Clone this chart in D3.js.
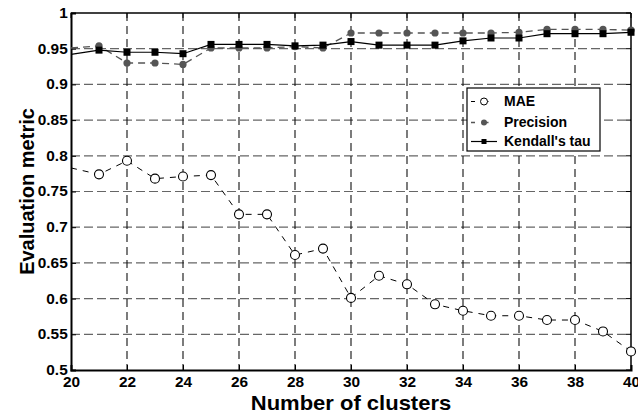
<!DOCTYPE html>
<html><head><meta charset="utf-8">
<script src="https://cdn.jsdelivr.net/npm/d3@7"></script>
<style>body{margin:0;background:#fff}svg{display:block;font-family:"Liberation Sans",Arial,sans-serif;font-weight:bold}</style>
</head><body><svg id="c" width="638" height="415"></svg>
<script>
const clusters = [20,21,22,23,24,25,26,27,28,29,30,31,32,33,34,35,36,37,38,39,40];
const mae = [0.783,0.774,0.793,0.768,0.771,0.773,0.718,0.718,0.661,0.670,0.601,0.632,0.620,0.592,0.583,0.576,0.576,0.570,0.570,0.554,0.526];
const precision = [0.951,0.954,0.930,0.930,0.928,0.951,0.951,0.951,0.953,0.951,0.972,0.972,0.972,0.972,0.972,0.972,0.973,0.977,0.977,0.977,0.976];
const kendall = [0.942,0.948,0.945,0.945,0.943,0.956,0.956,0.956,0.954,0.955,0.960,0.955,0.955,0.955,0.961,0.965,0.965,0.971,0.971,0.971,0.973];
const xTicks = [20,22,24,26,28,30,32,34,36,38,40];
const yTicks = [0.5,0.55,0.6,0.65,0.7,0.75,0.8,0.85,0.9,0.95,1];
const seriesNames = ["MAE","Precision","Kendall's tau"];

const svg = d3.select("#c");
const L=71, R=631, T=13, B=370;
const x = d3.scaleLinear().domain([20,40]).range([L,R]);
const y = d3.scaleLinear().domain([0.5,1]).range([B,T]);

// grid
svg.append("g").selectAll("line").data(yTicks.filter(v=>v>0.5&&v<1)).join("line")
  .attr("x1",L).attr("x2",R).attr("y1",d=>y(d)).attr("y2",d=>y(d))
  .attr("stroke","#666").attr("stroke-width",1.2).attr("stroke-dasharray","9,4");
svg.append("g").selectAll("line").data(xTicks.filter(v=>v>20&&v<40)).join("line")
  .attr("y1",T).attr("y2",B).attr("x1",d=>x(d)).attr("x2",d=>x(d))
  .attr("stroke","#111").attr("stroke-width",1.1).attr("stroke-dasharray","8,5");

// axes
const xa = svg.append("g").attr("transform",`translate(0,${B})`)
  .call(d3.axisBottom(x).tickValues(xTicks).tickSize(-5).tickPadding(6).tickFormat(d3.format("d")));
const ya = svg.append("g").attr("transform",`translate(${L},0)`)
  .call(d3.axisLeft(y).tickValues(yTicks).tickSize(-5).tickPadding(3).tickFormat(d=>String(d)));
[xa,ya].forEach(a=>{a.select(".domain").attr("stroke","#000").attr("stroke-width",2);
  a.selectAll("text").attr("font-size",14).attr("font-weight","bold").attr("font-family","Liberation Sans, Arial, sans-serif").attr("fill","#000")
    .attr("transform","scale(1.1,1)");
  a.selectAll(".tick line").attr("stroke","#000");});
xa.selectAll("text").attr("dy","0.8em");
// top/right mirrored ticks
svg.append("g").selectAll("line").data(xTicks).join("line").attr("x1",d=>x(d)).attr("x2",d=>x(d)).attr("y1",T).attr("y2",T+5).attr("stroke","#000");
svg.append("g").selectAll("line").data(yTicks).join("line").attr("y1",d=>y(d)).attr("y2",d=>y(d)).attr("x1",R).attr("x2",R-5).attr("stroke","#000");
svg.append("line").attr("x1",L).attr("x2",R).attr("y1",T).attr("y2",T).attr("stroke","#000").attr("stroke-width",1.5);
svg.append("line").attr("x1",R).attr("x2",R).attr("y1",T).attr("y2",B).attr("stroke","#000").attr("stroke-width",1.5);

// series
const line = d3.line().x((d,i)=>x(clusters[i])).y(d=>y(d));
svg.append("path").datum(mae).attr("d",line).attr("fill","none").attr("stroke","#000").attr("stroke-width",1).attr("stroke-dasharray","6,6");
svg.append("path").datum(precision).attr("d",line).attr("fill","none").attr("stroke","#555").attr("stroke-width",1.3).attr("stroke-dasharray","7,5");
svg.append("path").datum(kendall).attr("d",line).attr("fill","none").attr("stroke","#000").attr("stroke-width",1.2);

// markers (the first point at x=20 shows no marker in the reference)
const vis = (d,i)=>i>0;
svg.append("g").selectAll("circle").data(mae.map((v,i)=>[clusters[i],v]).filter(vis)).join("circle")
  .attr("cx",d=>x(d[0])).attr("cy",d=>y(d[1])).attr("r",4.5)
  .attr("fill","#fff").attr("stroke","#000").attr("stroke-width",1.1);
svg.append("g").selectAll("circle").data(precision.map((v,i)=>[clusters[i],v]).filter(vis)).join("circle")
  .attr("cx",d=>x(d[0])).attr("cy",d=>y(d[1])).attr("r",3.6).attr("fill","#555");
svg.append("g").selectAll("rect").data(kendall.map((v,i)=>[clusters[i],v]).filter(vis)).join("rect")
  .attr("x",d=>x(d[0])-3.5).attr("y",d=>y(d[1])-3.5).attr("width",7).attr("height",7).attr("fill","#000");

// legend
const lg = svg.append("g");
lg.append("rect").attr("x",467).attr("y",88).attr("width",133).attr("height",63).attr("fill","#fff").attr("stroke","#000").attr("stroke-width",1.2);
const rows=[101.5,122.5,141.5];
const lx1=471, lx2=497, lm=484;
lg.append("line").attr("x1",lx1).attr("x2",lx2).attr("y1",rows[0]).attr("y2",rows[0]).attr("stroke","#000").attr("stroke-dasharray","4,9.5");
lg.append("circle").attr("cx",lm).attr("cy",rows[0]).attr("r",3.5).attr("fill","#fff").attr("stroke","#000");
lg.append("line").attr("x1",lx1).attr("x2",lx2).attr("y1",rows[1]).attr("y2",rows[1]).attr("stroke","#555").attr("stroke-width",1.3).attr("stroke-dasharray","4,9.5");
lg.append("circle").attr("cx",lm).attr("cy",rows[1]).attr("r",3).attr("fill","#555");
lg.append("line").attr("x1",lx1).attr("x2",lx2).attr("y1",rows[2]).attr("y2",rows[2]).attr("stroke","#000").attr("stroke-width",1.2);
lg.append("rect").attr("x",lm-2.5).attr("y",rows[2]-2.5).attr("width",5).attr("height",5).attr("fill","#000");
lg.selectAll("text").data(seriesNames).join("text").attr("x",504).attr("y",(d,i)=>rows[i]).attr("dy","0.35em")
  .attr("font-size",14).attr("font-weight","bold").text(d=>d);

// titles
svg.append("text").attr("transform",`translate(${(L+R)/2},410) scale(1.1,1)`).attr("text-anchor","middle").attr("font-size",20).attr("font-weight","bold").text("Number of clusters");
svg.append("text").attr("transform",`translate(34,${(T+B)/2}) rotate(-90)`).attr("text-anchor","middle").attr("font-size",20).attr("font-weight","bold").text("Evaluation metric");
</script></body></html>
